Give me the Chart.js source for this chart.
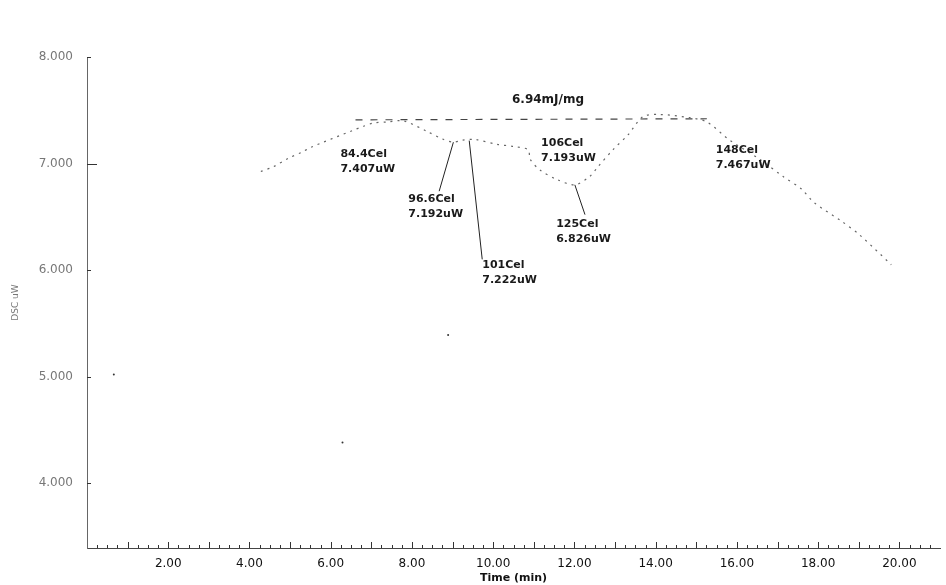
<!DOCTYPE html>
<html>
<head>
<meta charset="utf-8">
<title>DSC</title>
<script src="https://cdn.jsdelivr.net/npm/chart.js@4.4.1/dist/chart.umd.min.js"></script>
<style>
  html, body { margin: 0; padding: 0; background: #fff; }
  #wrap { width: 946px; height: 585px; }
</style>
</head>
<body>
<div id="wrap"><canvas id="dscChart" width="946" height="585"></canvas></div>
<script>
// DSC curve (time in min, heat flow)
const curveTime = [4.28, 4.59, 4.96, 5.31, 5.50, 6.54, 6.81, 7.05, 7.40, 7.79, 8.38, 8.75, 9.02, 9.24, 9.56,
    10.10, 10.49, 10.86, 10.91, 11.15, 11.57, 12.01, 12.38, 12.58, 12.95, 13.32, 13.69, 14.10, 14.84,
    15.26, 15.82, 16.56, 17.13, 17.59, 17.91, 18.57, 19.02, 19.80];
const curveValue = [6.925, 6.97, 7.05, 7.11, 7.15, 7.31, 7.35, 7.38, 7.39, 7.40, 7.30, 7.23, 7.20, 7.22, 7.225,
    7.18, 7.16, 7.13, 7.04, 6.94, 6.85, 6.80, 6.88, 6.97, 7.13, 7.27, 7.44, 7.46, 7.43,
    7.39, 7.22, 7.04, 6.88, 6.76, 6.63, 6.46, 6.33, 6.05];

// integration baseline
const baseTime = [6.61, 15.26];
const baseValue = [7.41, 7.42];

// stray points on the scan
const strayTime = [0.66, 6.29, 8.89];
const strayValue = [5.02, 4.38, 5.39];

// axis ticks
const yTicks = [4, 5, 6, 7, 8];
const xTicks = [2, 4, 6, 8, 10, 12, 14, 16, 18, 20];

// peak annotations: text, anchor of the text, leader line (from, to)
const peakLines = [
    ['84.4Cel', '7.407uW'],
    ['96.6Cel', '7.192uW'],
    ['101Cel', '7.222uW'],
    ['106Cel', '7.193uW'],
    ['125Cel', '6.826uW'],
    ['148Cel', '7.467uW']
];
const peakLabelAt = [[6.24, 7.085], [7.91, 6.67], [9.73, 6.05], [11.18, 7.19], [11.55, 6.43], [15.48, 7.13]];
const leaderFrom = [null, [9.02, 7.20], [9.41, 7.215], null, [12.01, 6.80], null];
const leaderTo = [null, [8.67, 6.74], [9.73, 6.10], null, [12.26, 6.52], null];
const areaText = '6.94mJ/mg';
const areaTextAt = [11.35, 7.60];

function toPoints(xs, ys) {
    return xs.map((x, i) => ({x: x, y: ys[i]}));
}

// draws inner ticks and the text annotations
const annotatePlugin = {
    id: 'annotate',
    afterDatasetsDraw(chart) {
        const ctx = chart.ctx;
        const xs = chart.scales.x;
        const ys = chart.scales.y;
        const area = chart.chartArea;
        ctx.save();

        // minor ticks along the time axis
        ctx.strokeStyle = '#333';
        ctx.lineWidth = 1;
        for (let t = 0.25; t < 21; t += 0.25) {
            const px = Math.round(xs.getPixelForValue(t)) + 0.5;
            const major = Math.abs(t - Math.round(t)) < 0.01;
            const len = major ? 6 : 3;
            ctx.beginPath();
            ctx.moveTo(px, area.bottom);
            ctx.lineTo(px, area.bottom - len);
            ctx.stroke();
        }
        // ticks on the heat-flow axis
        yTicks.forEach(v => {
            const py = Math.round(ys.getPixelForValue(v)) + 0.5;
            ctx.beginPath();
            ctx.moveTo(area.left, py);
            ctx.lineTo(area.left + (v === 7 ? 10 : 4), py);
            ctx.stroke();
        });

        // leader lines
        ctx.strokeStyle = '#222';
        leaderFrom.forEach((from, i) => {
            if (!from) return;
            const to = leaderTo[i];
            ctx.beginPath();
            ctx.moveTo(xs.getPixelForValue(from[0]), ys.getPixelForValue(from[1]));
            ctx.lineTo(xs.getPixelForValue(to[0]), ys.getPixelForValue(to[1]));
            ctx.stroke();
        });

        // labels
        ctx.fillStyle = '#1a1a1a';
        ctx.font = 'bold 11px "DejaVu Sans"';
        ctx.textBaseline = 'middle';
        ctx.textAlign = 'left';
        peakLines.forEach((lines, i) => {
            const px = xs.getPixelForValue(peakLabelAt[i][0]);
            const py = ys.getPixelForValue(peakLabelAt[i][1]);
            lines.forEach((txt, j) => ctx.fillText(txt, px, py + j * 15));
        });
        ctx.textAlign = 'center';
        ctx.font = 'bold 12px "DejaVu Sans"';
        ctx.fillText(areaText, xs.getPixelForValue(areaTextAt[0]), ys.getPixelForValue(areaTextAt[1]));
        ctx.restore();
    }
};

new Chart(document.getElementById('dscChart'), {
    type: 'scatter',
    data: {
        datasets: [
            {
                label: 'DSC',
                data: toPoints(curveTime, curveValue),
                showLine: true,
                borderColor: '#666',
                borderWidth: 1.2,
                borderDash: [2, 5],
                pointRadius: 0,
                tension: 0.3
            },
            {
                label: 'Baseline',
                data: toPoints(baseTime, baseValue),
                showLine: true,
                borderColor: '#444',
                borderWidth: 1.2,
                borderDash: [7, 8],
                pointRadius: 0
            },
            {
                label: 'Noise',
                data: toPoints(strayTime, strayValue),
                pointRadius: 1,
                pointBackgroundColor: '#333',
                pointBorderWidth: 0
            }
        ]
    },
    options: {
        responsive: false,
        animation: false,
        layout: { padding: { top: 57, right: 6, left: 0, bottom: 0 } },
        plugins: {
            legend: { display: false },
            tooltip: { enabled: false }
        },
        scales: {
            x: {
                type: 'linear',
                min: 0,
                max: 21,
                afterBuildTicks: (scale) => { scale.ticks = xTicks.map(v => ({value: v})); },
                afterFit: (scale) => { scale.height = 37; },
                ticks: {
                    callback: (v) => v.toFixed(2),
                    color: '#111',
                    font: { family: 'DejaVu Sans', size: 12 },
                    padding: 1,
                    maxRotation: 0
                },
                grid: { display: false },
                border: { display: true, color: '#444', dash: [6, 2], width: 1 },
                title: {
                    display: true,
                    text: 'Time (min)',
                    color: '#111',
                    font: { family: 'DejaVu Sans', size: 11, weight: 'bold' },
                    padding: { top: -3, bottom: 0 }
                }
            },
            y: {
                type: 'linear',
                min: 3.39,
                max: 8.0,
                afterBuildTicks: (scale) => { scale.ticks = yTicks.map(v => ({value: v})); },
                afterFit: (scale) => { scale.width = 87; },
                ticks: {
                    callback: (v) => v.toFixed(3),
                    color: '#777',
                    font: { family: 'DejaVu Sans', size: 12 },
                    padding: 6
                },
                grid: { display: false },
                border: { display: true, color: '#666', dash: [1, 3], width: 1 },
                title: {
                    display: true,
                    text: 'DSC uW',
                    color: '#777',
                    font: { family: 'DejaVu Sans', size: 9 },
                    padding: { top: 10, bottom: 0 }
                }
            }
        }
    },
    plugins: [annotatePlugin]
});
</script>
</body>
</html>
